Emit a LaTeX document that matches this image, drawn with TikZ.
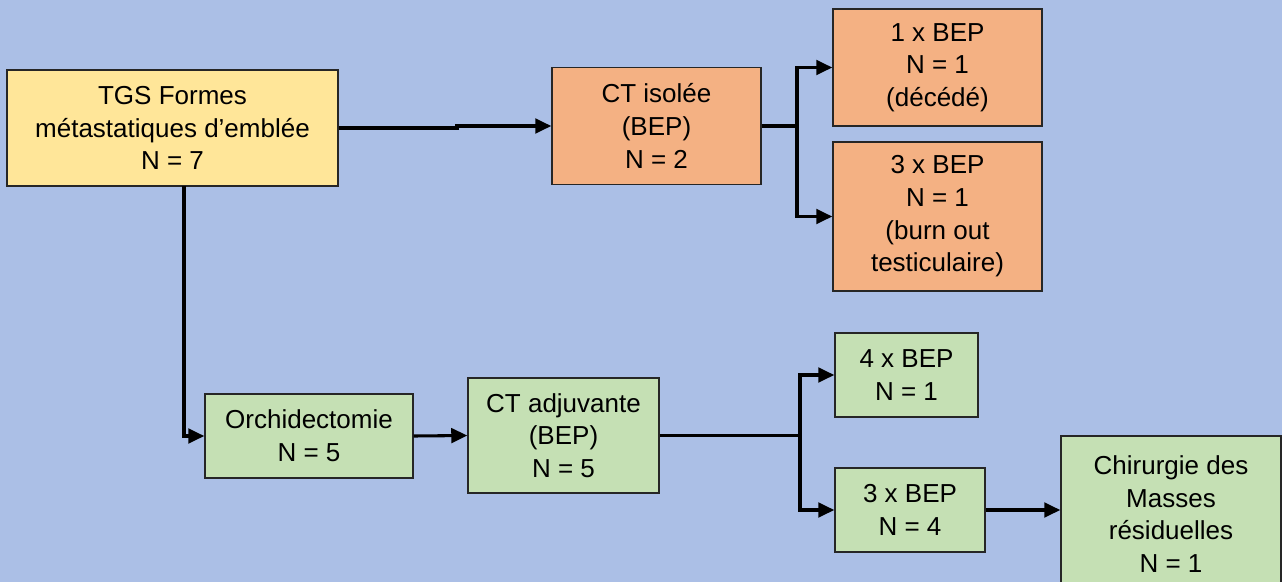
\documentclass[tikz,border=0pt]{standalone}
\usepackage{fontspec}
\setmainfont{Liberation Sans}
\usetikzlibrary{arrows.meta,calc}
\definecolor{bg}{RGB}{171,191,230}
\definecolor{fyellow}{RGB}{255,230,153}
\definecolor{forange}{RGB}{244,177,131}
\definecolor{fgreen}{RGB}{197,224,180}
\tikzset{
  box/.style={draw=black!85, line width=1.1pt, inner sep=0pt, align=center,
    font=\fontsize{19.5}{24.5}\selectfont},
  yel/.style={box, fill=fyellow},
  ora/.style={box, fill=forange},
  gre/.style={box, fill=fgreen},
  conn/.style={line width=2.3pt, black},
  arr/.style={conn, -{Triangle[length=12pt,width=11pt]}}
}
\begin{document}
\begin{tikzpicture}[x=0.75pt,y=-0.75pt]
\fill[bg] (0,0) rectangle (1282,582);
\useasboundingbox (0,0) rectangle (1282,582);
\node[yel, minimum width=331*0.75pt, minimum height=116*0.75pt] (tgs) at (172.5,128) {TGS Formes\\métastatiques d’emblée\\N = 7};
\node[ora, minimum width=209*0.75pt, minimum height=117*0.75pt] (ct1) at (656.5,126) {CT isolée\\(BEP)\\N = 2};
\node[ora, minimum width=209*0.75pt, minimum height=117*0.75pt] (bep1) at (937.5,67.5) {1 x BEP\\N = 1\\(décédé)};
\node[ora, minimum width=209*0.75pt, minimum height=149*0.75pt] (bep3) at (937.5,216.5) {3 x BEP\\N = 1\\(burn out\\testiculaire)};
\node[gre, minimum width=208*0.75pt, minimum height=84*0.75pt] (orch) at (309,436) {Orchidectomie\\N = 5};
\node[gre, minimum width=191*0.75pt, minimum height=115*0.75pt] (ctadj) at (563.5,435.5) {CT adjuvante\\(BEP)\\N = 5};
\node[gre, minimum width=143*0.75pt, minimum height=84*0.75pt] (bep4) at (906.5,375) {4 x BEP\\N = 1};
\node[gre, minimum width=150*0.75pt, minimum height=84*0.75pt] (bep3b) at (910,510) {3 x BEP\\N = 4};
\node[gre, minimum width=220*0.75pt, minimum height=156*0.75pt] (chir) at (1171,514) {Chirurgie des\\Masses\\résiduelles\\N = 1};
% connectors
\coordinate (k1) at (457,128);
\draw[arr] (tgs.east) -- (k1) |- (ct1.west);
\coordinate (b1) at (797,126);
\draw[conn] (ct1.east) -- (b1);
\draw[arr] (b1) |- (bep1.west);
\draw[arr] (b1) |- (bep3.west);
\coordinate (d1) at (184,186);
\draw[arr] (d1) |- (orch.west);
\draw[arr] (orch.east) -- (ctadj.west);
\coordinate (b2) at (800,435.5);
\draw[conn] (ctadj.east) -- (b2);
\draw[arr] (b2) |- (bep4.west);
\draw[arr] (b2) |- (bep3b.west);
\draw[arr] (bep3b.east) -- (bep3b.east -| chir.west);
\end{tikzpicture}
\end{document}
